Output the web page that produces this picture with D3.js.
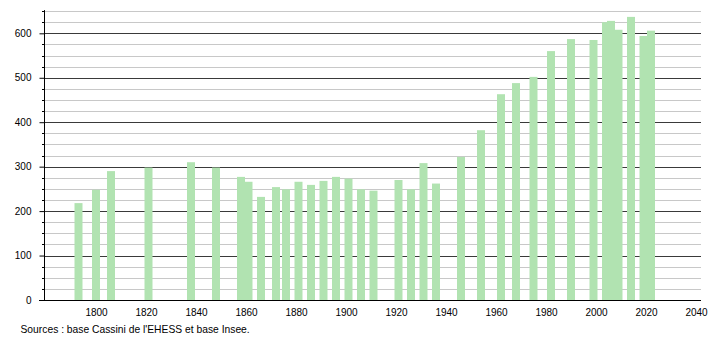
<!DOCTYPE html>
<html>
<head>
<meta charset="utf-8">
<script src="https://cdn.jsdelivr.net/npm/d3@7"></script>
<style>
  html, body { margin: 0; padding: 0; background: #fff; }
  svg { display: block; font-family: "Liberation Sans", Arial, sans-serif; }
</style>
</head>
<body>
<svg id="chart" width="710" height="340"></svg>
<script>
// Data
const years = [1793, 1800, 1806, 1821, 1838, 1848, 1858, 1861, 1866, 1872, 1876, 1881, 1886, 1891, 1896, 1901, 1906, 1911,
               1921, 1926, 1931, 1936, 1946, 1954, 1962, 1968, 1975, 1982, 1990, 1999, 2004, 2006, 2009, 2014, 2019, 2022];
const population = [218, 248, 290, 298, 310, 298, 277, 266, 232, 254, 249, 266, 259, 268, 277, 273, 249, 246,
                    270, 249, 308, 262, 322, 382, 463, 488, 502, 560, 587, 585, 625, 628, 608, 637, 594, 606];
const xTickLabels = [1800, 1820, 1840, 1860, 1880, 1900, 1920, 1940, 1960, 1980, 2000, 2020, 2040];
const yMajorTicks = [0, 100, 200, 300, 400, 500, 600];
const yMinorTicks = d3.range(0, 651, 25);
const sourceText = "Sources : base Cassini de l'EHESS et base Insee.";

const svg = d3.select("#chart");
const plotLeft = 44, plotRight = 701, plotBottom = 300, plotTop = 11.1;

const x = d3.scaleLinear().domain([1800, 2040]).range([96, 696]);
const y = d3.scaleLinear().domain([0, 650]).range([plotBottom, plotTop]);
const barW = 8;

// minor grid
svg.append("g").selectAll("line").data(yMinorTicks.filter(v => v % 100 !== 0)).join("line")
  .attr("x1", plotLeft).attr("x2", plotRight)
  .attr("y1", d => Math.round(y(d)) + 0.5).attr("y2", d => Math.round(y(d)) + 0.5)
  .attr("stroke", "#c8c8c8").attr("stroke-width", 1);
// major grid
svg.append("g").selectAll("line").data(yMajorTicks.filter(v => v > 0)).join("line")
  .attr("x1", plotLeft).attr("x2", plotRight)
  .attr("y1", d => Math.round(y(d)) + 0.5).attr("y2", d => Math.round(y(d)) + 0.5)
  .attr("stroke", "#3a3a3a").attr("stroke-width", 1);

// bars
svg.append("g").selectAll("rect").data(years).join("rect")
  .attr("x", (d) => x(d) - barW / 2)
  .attr("width", barW)
  .attr("y", (d, i) => y(population[i]))
  .attr("height", (d, i) => plotBottom - y(population[i]))
  .attr("fill", "#b1e3b1");

// y axis
const yAxis = d3.axisLeft(y).tickValues(yMajorTicks).tickSize(5).tickPadding(8).tickFormat(d3.format("d"));
const gy = svg.append("g").attr("transform", `translate(${plotLeft + 0.5},0)`).call(yAxis);
gy.select(".domain").attr("d", `M0,${plotTop - 1}V${plotBottom}`).attr("stroke", "#000");
gy.selectAll(".tick line").attr("stroke", "#000");
gy.selectAll(".tick text").attr("font-size", 10).attr("fill", "#000")
  .attr("font-family", "'Liberation Sans', Arial, sans-serif");
// minor y ticks
svg.append("g").selectAll("line").data(yMinorTicks.filter(v => v % 100 !== 0)).join("line")
  .attr("x1", plotLeft - 2).attr("x2", plotLeft)
  .attr("y1", d => Math.round(y(d)) + 0.5).attr("y2", d => Math.round(y(d)) + 0.5)
  .attr("stroke", "#000");

// x axis
const xAxis = d3.axisBottom(x).tickValues(xTickLabels).tickSize(0).tickPadding(8).tickFormat(d3.format("d"));
const gx = svg.append("g").attr("transform", `translate(0,${plotBottom + 0.5})`).call(xAxis);
gx.select(".domain").attr("d", `M${plotLeft - 5},0H${plotRight}`).attr("stroke", "#000");
gx.selectAll(".tick text").attr("font-size", 10).attr("fill", "#000")
  .attr("font-family", "'Liberation Sans', Arial, sans-serif");

// source
svg.append("text").attr("x", 20.5).attr("y", 333).attr("font-size", 10.3).attr("fill", "#000")
  .text(sourceText);
</script>
</body>
</html>
